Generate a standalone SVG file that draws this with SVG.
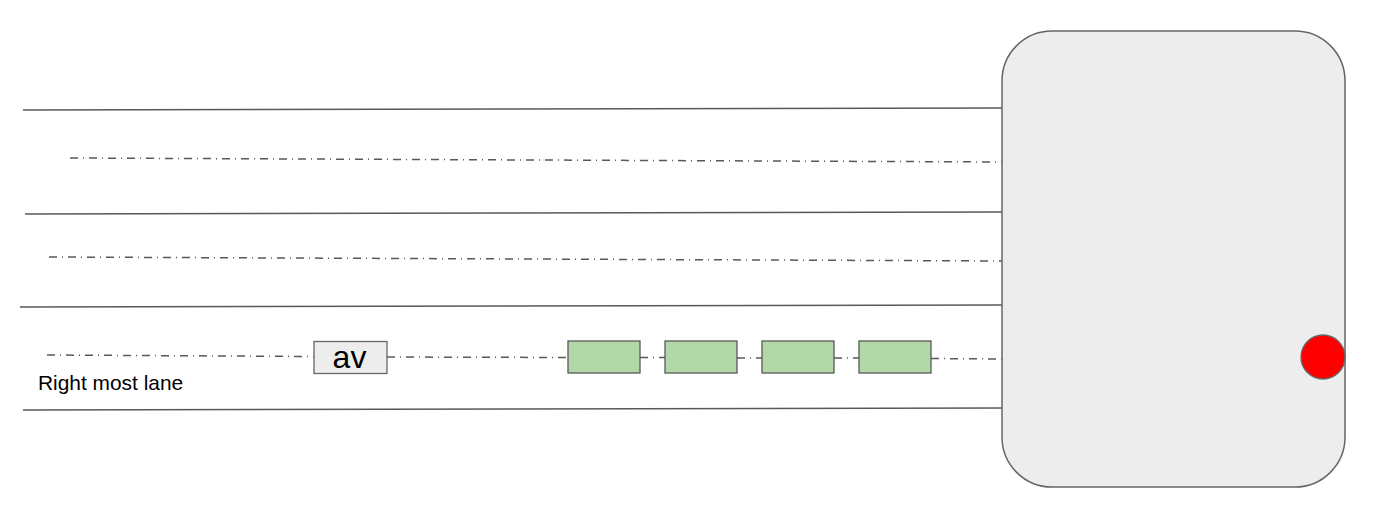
<svg xmlns="http://www.w3.org/2000/svg" width="1376" height="517" viewBox="0 0 1376 517">
<style>
.lane{stroke:#595959;stroke-width:1.5;fill:none}
.mid{stroke:#595959;stroke-width:1.5;fill:none;stroke-dasharray:8 5 1 5}
.car{fill:#b2d7a8;stroke:#595959;stroke-width:1.3}
.lbl{font-family:"Liberation Sans",Arial,sans-serif;fill:#000}
</style>
<rect width="1376" height="517" fill="#fff"/>
<g id="connectors">
<line class="lane" x1="23" y1="110" x2="1002" y2="108"/>
<line class="mid" x1="70" y1="158" x2="1002" y2="162"/>
<line class="lane" x1="25" y1="214" x2="1002" y2="212"/>
<line class="mid" x1="49" y1="257" x2="1002" y2="261"/>
<line class="lane" x1="20" y1="307" x2="1002" y2="305"/>
<line class="mid" x1="47" y1="355" x2="314" y2="356.5"/>
<line class="mid" x1="387" y1="357" x2="568" y2="357.5"/>
<line class="mid" x1="640" y1="357.5" x2="665" y2="357.5"/>
<line class="mid" x1="737" y1="358" x2="762" y2="358"/>
<line class="mid" x1="834" y1="358" x2="859" y2="358"/>
<line class="mid" x1="931" y1="358.5" x2="1002" y2="359"/>
<line class="lane" x1="23" y1="410" x2="1002" y2="408"/>
</g>
<g id="intersection">
<rect x="1002" y="31" width="343" height="456" rx="50" ry="50" fill="#ededed" stroke="#666" stroke-width="1.5"/>
</g>
<g id="signal">
<circle cx="1323" cy="357" r="22" fill="#ff0000" stroke="#666" stroke-width="1.3"/>
</g>
<g id="av">
<rect x="314" y="341.5" width="73" height="32" fill="#ededed" stroke="#666" stroke-width="1.3"/>
<text class="lbl" x="349.5" y="368" font-size="32" text-anchor="middle">av</text>
</g>
<g id="car1"><rect class="car" x="568" y="341" width="72" height="32"/></g>
<g id="car2"><rect class="car" x="665" y="341" width="72" height="32"/></g>
<g id="car3"><rect class="car" x="762" y="341" width="72" height="32"/></g>
<g id="car4"><rect class="car" x="859" y="341" width="72" height="32"/></g>
<g id="label">
<text class="lbl" x="38" y="389.5" font-size="20.9">Right most lane</text>
</g>
</svg>
